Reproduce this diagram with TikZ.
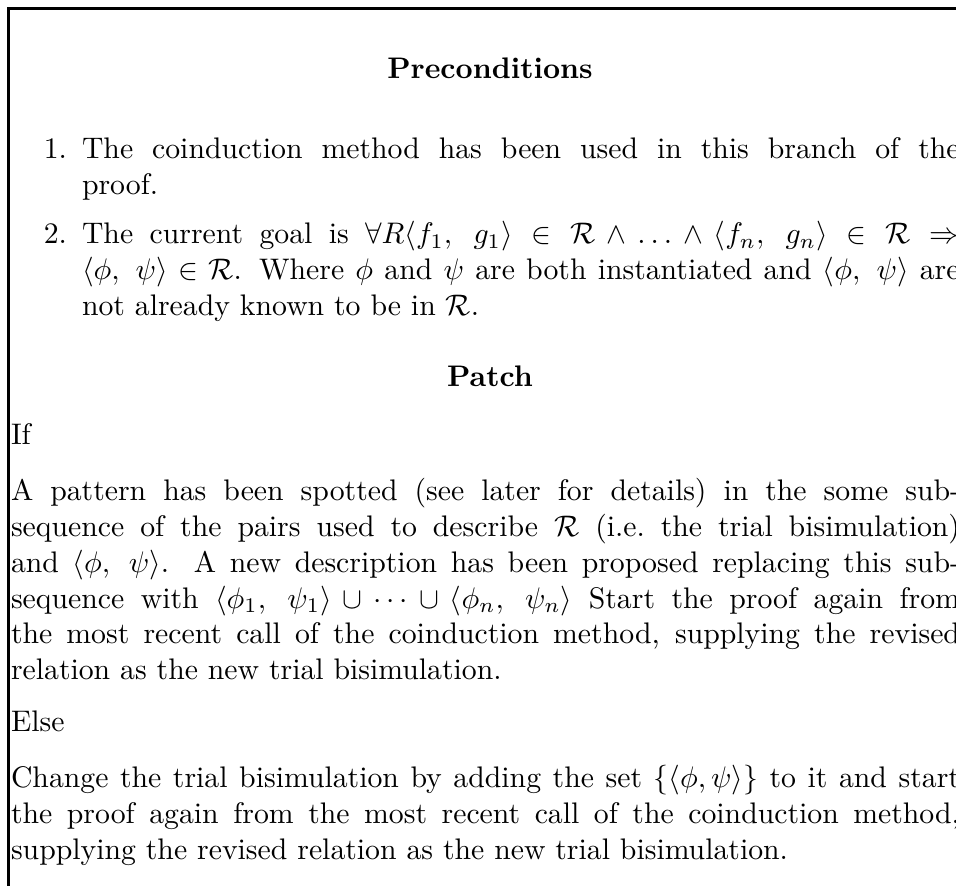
\documentclass[tikz,border=0pt]{standalone}
\begin{document}
\begin{tikzpicture}[x=0.33613pt,y=-0.33613pt,
  framepath/.style={line width=1pt, line join=miter},
  headtext/.style={font=\bfseries, inner sep=0pt, outer sep=0pt, anchor=base},
  numtext/.style={inner sep=0pt, outer sep=0pt, anchor=base east},
  linetext/.style={inner sep=0pt, outer sep=0pt, anchor=base west},
  blocktext/.style={inner sep=0pt, outer sep=0pt, anchor=north west, text width=319pt, align=justify},
  itemtext/.style={blocktext, text width=295pt}]
\useasboundingbox (0,0) rectangle (956,886);
\clip (0,0) rectangle (956,886);

% frame: only the top and left sides lie inside the picture
\coordinate (fbottom) at (8.5,900);
\coordinate (fcorner) at (8.5,8.5);
\coordinate (fright) at (990,8.5);
\draw[framepath] (fbottom) -- (fcorner) -- (fright);

% preconditions
\node[headtext] (pre) at (490,79) {Preconditions};
\node[numtext] (n1) at (67,159) {1.};
\node[itemtext] (i1) at (82,134) {\strut The coinduction method has been used in this branch of the\linebreak proof.};
\node[numtext] (n2) at (67,244) {2.};
\node[itemtext] (i2) at (82,219) {\strut The current goal is
  $\forall R\langle f_1,\ g_1\rangle \in \mathcal{R} \wedge \ldots \wedge \langle f_n,\ g_n\rangle \in \mathcal{R} \Rightarrow\penalty-10000 \langle \phi,\ \psi\rangle \in \mathcal{R}$.
  Where $\phi$ and $\psi$ are both instantiated and $\langle\phi,\ \psi\rangle$ are\linebreak
  not already known to be in $\mathcal{R}$.};

% patch
\node[headtext] (patch) at (490,387) {Patch};
\node[linetext] (if) at (11,445) {If};
\node[blocktext] (ifbody) at (11,476) {\strut A pattern has been spotted (see later for details) in the some sub-\linebreak
  sequence of the pairs used to describe $\mathcal{R}$ (i.e.\ the trial bisimulation)\linebreak
  and $\langle\phi,\ \psi\rangle$. A new description has been proposed replacing this sub-\linebreak
  sequence with $\langle\phi_1,\ \psi_1\rangle \cup \cdots \cup \langle\phi_n,\ \psi_n\rangle$ Start the proof again from\linebreak
  the most recent call of the coinduction method, supplying the revised\linebreak
  relation as the new trial bisimulation.};
\node[linetext] (else) at (11,732) {Else};
\node[blocktext] (elsebody) at (11,763) {\strut Change the trial bisimulation by adding the set $\{\langle\phi,\psi\rangle\}$ to it and start\linebreak
  the proof again from the most recent call of the coinduction method,\linebreak
  supplying the revised relation as the new trial bisimulation.};
\end{tikzpicture}
\end{document}
